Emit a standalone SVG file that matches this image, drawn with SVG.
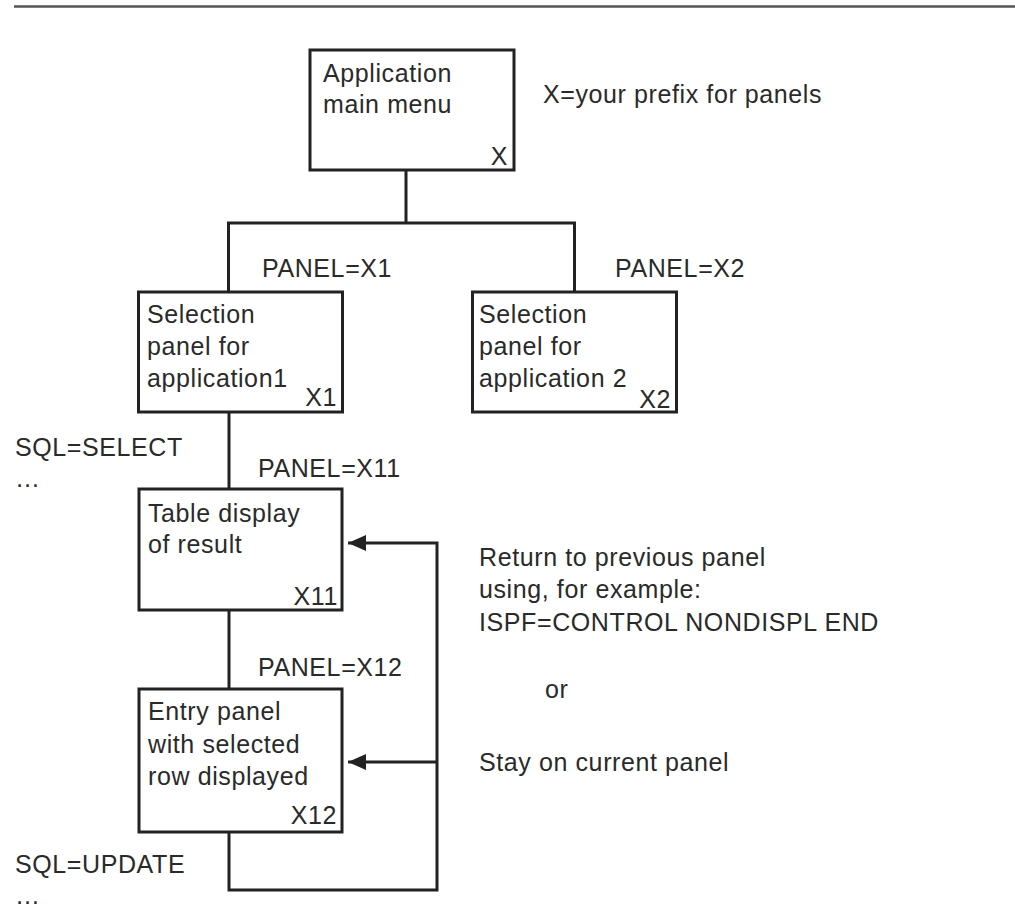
<svg xmlns="http://www.w3.org/2000/svg" width="1015" height="909" viewBox="0 0 1015 909">
<style>
  text { font-family: "Liberation Sans", Arial, sans-serif; font-size: 25px; letter-spacing: 0.6px; fill: #2a2a2a; }
  .end { text-anchor: end; }
  .dots { letter-spacing: 0px; }
  .box { fill: #ffffff; stroke: #222222; stroke-width: 3; }
  .wire { fill: none; stroke: #222222; stroke-width: 3; }
  .rule { stroke: #555555; stroke-width: 2.5; }
</style>
<defs>
  <marker id="arrow" markerWidth="18" markerHeight="16" refX="18" refY="8" orient="auto" markerUnits="userSpaceOnUse">
    <path d="M0,0 L18,8 L0,16 Z" fill="#222222"/>
  </marker>
</defs>
<rect width="1015" height="909" fill="#ffffff"/>
<line class="rule" x1="14" y1="6.5" x2="1015" y2="6.5"/>

<g id="connectors">
  <path class="wire" d="M406,170 V223"/>
  <path class="wire" d="M228.5,292 V223 H574.5 V292"/>
  <path class="wire" d="M229,412 V489"/>
  <path class="wire" d="M229,610 V689"/>
  <path class="wire" d="M229,832 V890 H437 V543 H348" marker-end="url(#arrow)"/>
  <path class="wire" d="M437,762 H348" marker-end="url(#arrow)"/>
</g>

<g id="node-main">
  <rect class="box" x="310" y="50" width="204" height="120"/>
  <text x="323" y="82">Application</text>
  <text x="323" y="113">main menu</text>
  <text class="end" x="508" y="165">X</text>
</g>

<g id="note-prefix">
  <text x="543" y="103">X=your prefix for panels</text>
</g>

<g id="label-x1"><text x="262" y="277">PANEL=X1</text></g>
<g id="label-x2"><text x="615" y="277">PANEL=X2</text></g>

<g id="node-x1">
  <rect class="box" x="138.5" y="292" width="204" height="120"/>
  <text x="147" y="323">Selection</text>
  <text x="147" y="355">panel for</text>
  <text x="147" y="387">application1</text>
  <text class="end" x="337" y="406">X1</text>
</g>

<g id="node-x2">
  <rect class="box" x="472.5" y="292" width="204" height="120"/>
  <text x="479" y="323">Selection</text>
  <text x="479" y="355">panel for</text>
  <text x="479" y="387">application 2</text>
  <text class="end" x="671" y="408">X2</text>
</g>

<g id="label-select">
  <text x="15" y="456">SQL=SELECT</text>
  <text class="dots" x="15" y="487">…</text>
</g>
<g id="label-x11"><text x="258" y="477">PANEL=X11</text></g>

<g id="node-x11">
  <rect class="box" x="139" y="489" width="203" height="121"/>
  <text x="148" y="522">Table display</text>
  <text x="148" y="553">of result</text>
  <text class="end" x="338" y="605">X11</text>
</g>

<g id="label-x12"><text x="258" y="676">PANEL=X12</text></g>

<g id="node-x12">
  <rect class="box" x="139" y="689" width="203" height="143"/>
  <text x="148" y="720">Entry panel</text>
  <text x="148" y="753">with selected</text>
  <text x="148" y="785">row displayed</text>
  <text class="end" x="337" y="824">X12</text>
</g>

<g id="label-update">
  <text x="15" y="873">SQL=UPDATE</text>
  <text class="dots" x="15" y="904">…</text>
</g>

<g id="note-return">
  <text x="479" y="566">Return to previous panel</text>
  <text x="479" y="598">using, for example:</text>
  <text x="479" y="631">ISPF=CONTROL NONDISPL END</text>
  <text x="545" y="698">or</text>
  <text x="479" y="771">Stay on current panel</text>
</g>
</svg>
